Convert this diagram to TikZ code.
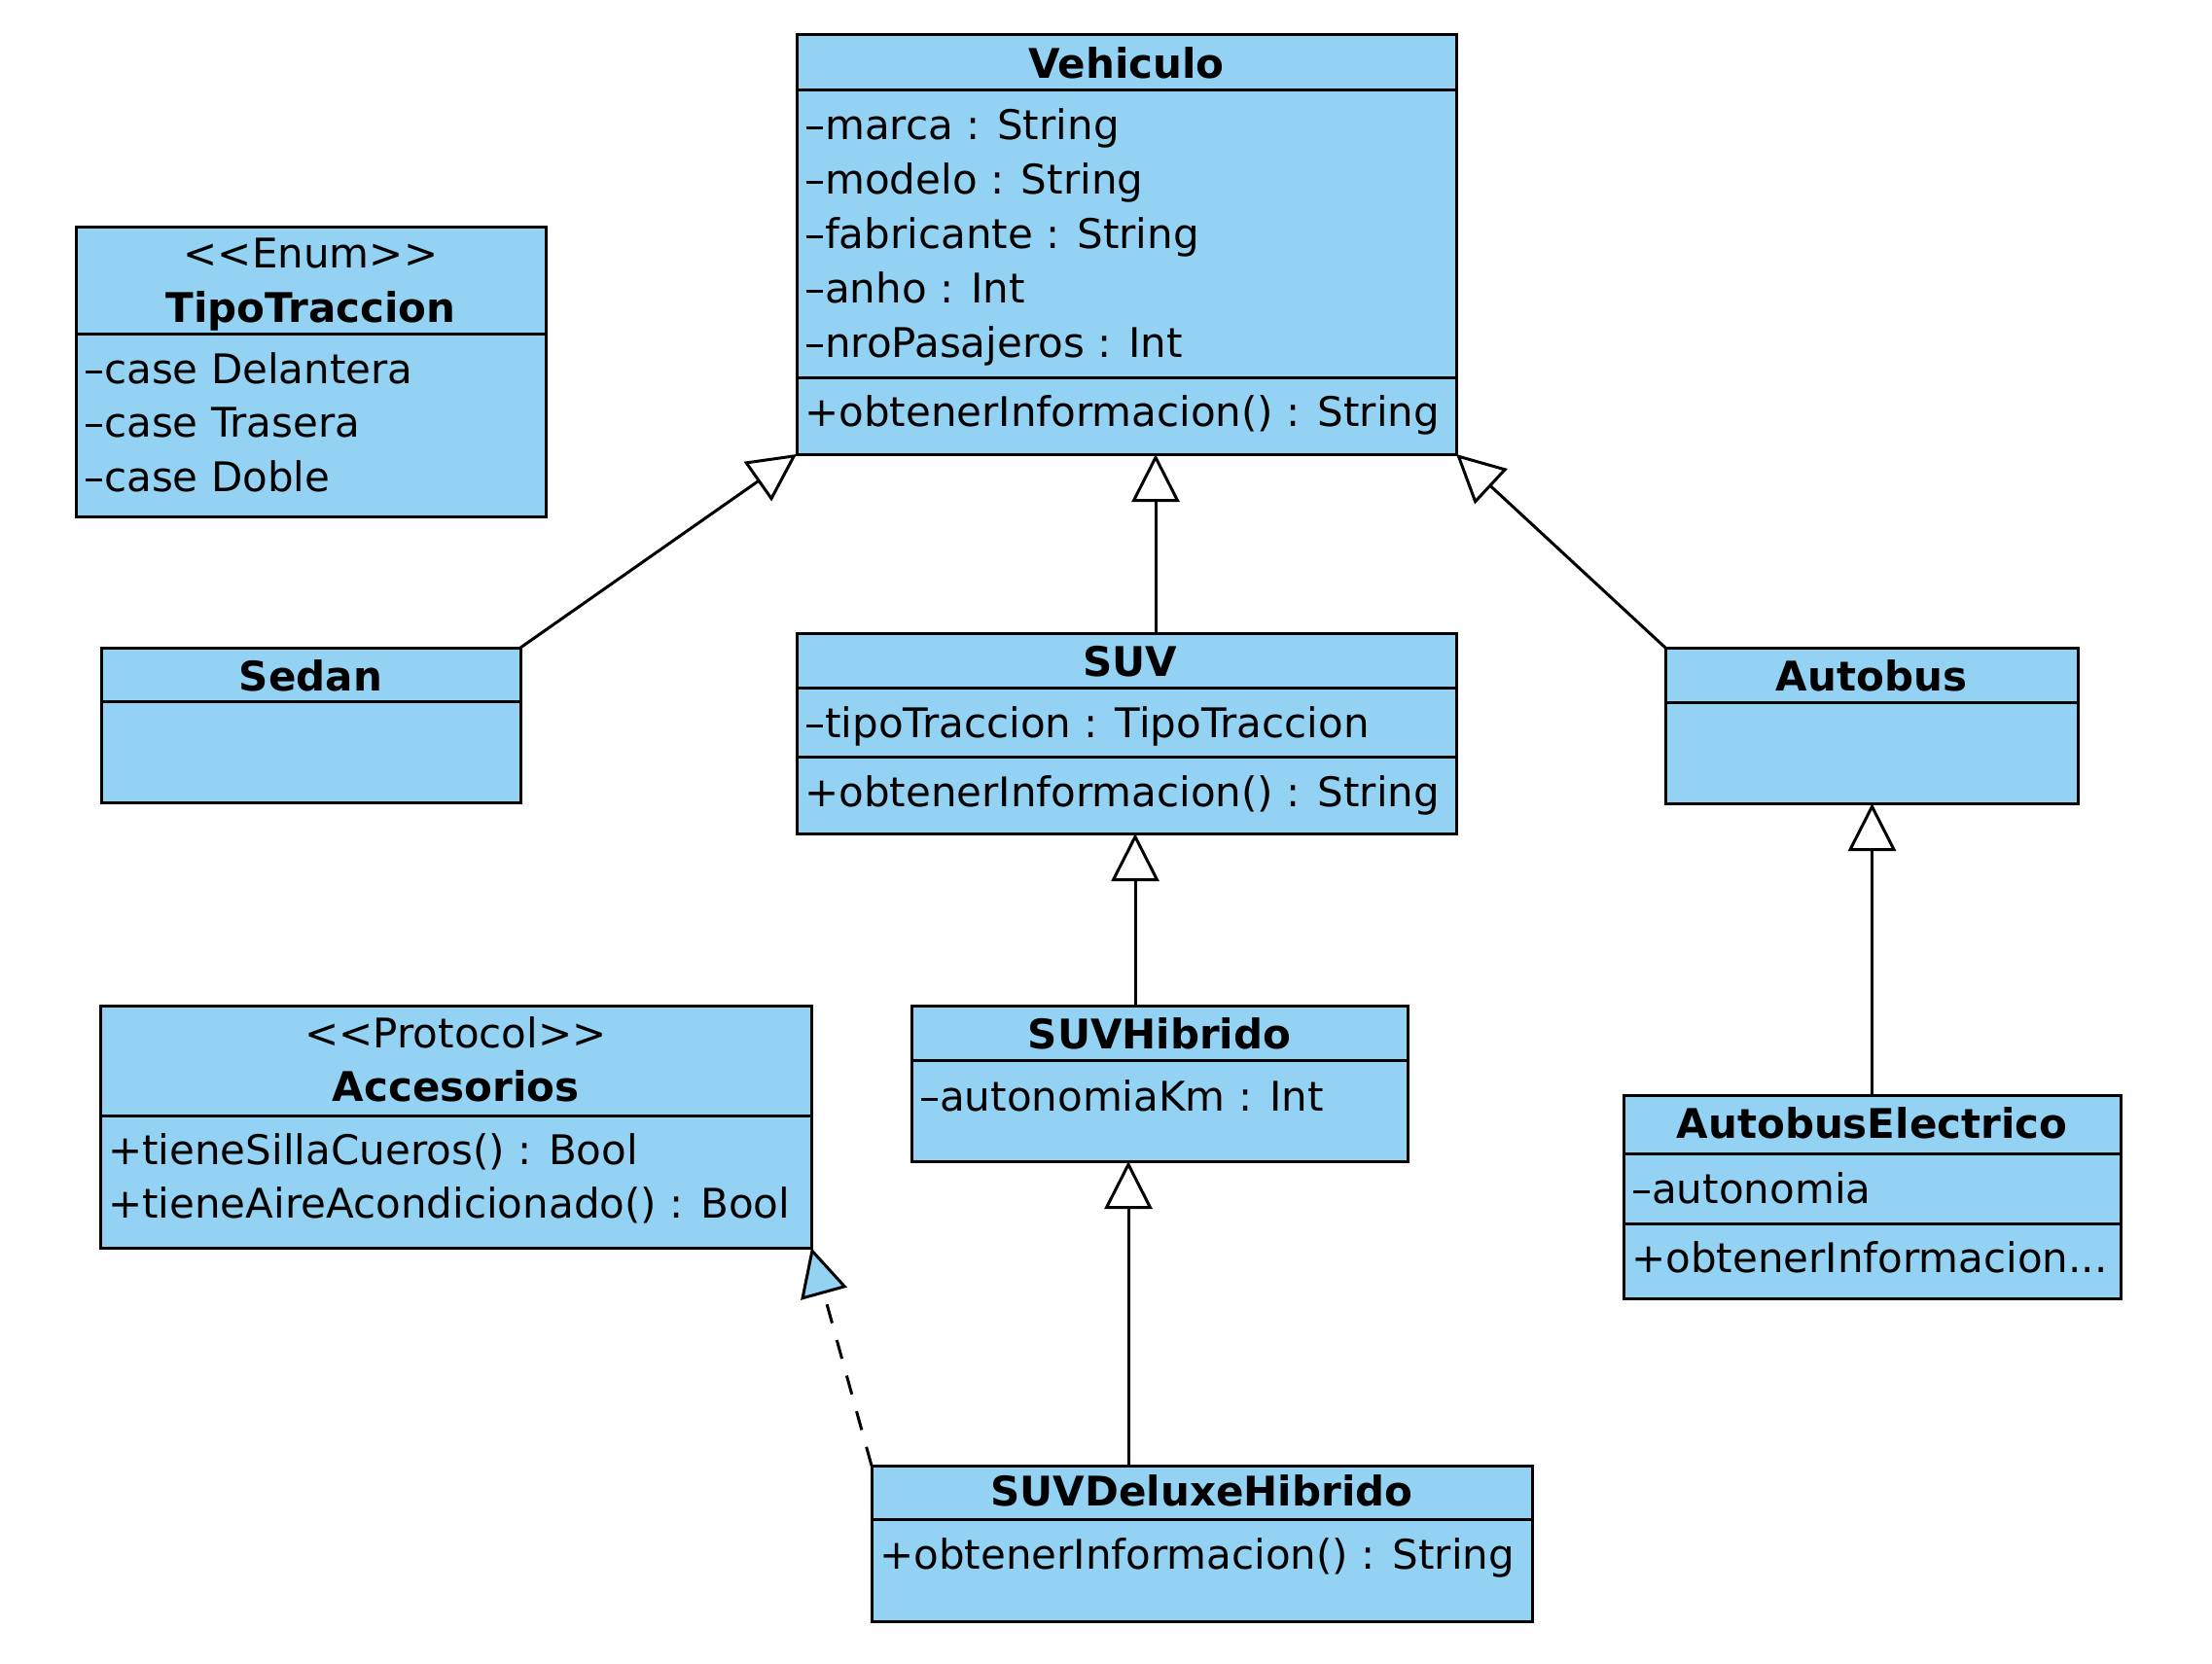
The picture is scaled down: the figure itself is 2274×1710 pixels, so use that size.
\documentclass[tikz,border=0pt]{standalone}
\usepackage{fontspec}
\setmainfont{DejaVu Sans}
\usetikzlibrary{arrows.meta,calc}
\definecolor{umlblue}{RGB}{147,210,242}
\begin{document}
\begin{tikzpicture}[x=1pt,y=-1pt,
  cls/.style={draw=black,line width=3pt,fill=umlblue,rectangle,inner sep=0pt,outer sep=0pt,anchor=north west},
  sepline/.style={line width=3pt},
  txt/.style={anchor=base west,inner sep=0pt,font=\fontsize{42}{50}\selectfont},
  hdr/.style={anchor=base,inner sep=0pt,font=\fontsize{42}{50}\selectfont\bfseries},
  ste/.style={anchor=base,inner sep=0pt,font=\fontsize{42}{50}\selectfont},
  inh/.style={line width=3pt,-{Triangle[open,length=49pt,width=49pt]}},
  rea/.style={line width=3pt,dash pattern=on 20pt off 18pt,-{Triangle[length=49pt,width=49pt,fill=umlblue]}}]
\useasboundingbox (0,0) rectangle (2274,1710);

% Vehiculo
\node[cls,minimum width=678pt,minimum height=431pt] (veh) at (819,36) {};
\draw[sepline] (veh.west |- 0,92) -- (veh.east |- 0,92);
\draw[sepline] (veh.west |- 0,388) -- (veh.east |- 0,388);
\node[hdr] (vehT) at (1158,80) {Vehiculo};
\node[txt] (veh1) at (827,143) {–marca : String};
\node[txt] (veh2) at (827,199) {–modelo : String};
\node[txt] (veh3) at (827,255) {–fabricante : String};
\node[txt] (veh4) at (827,311) {–anho : Int};
\node[txt] (veh5) at (827,367) {–nroPasajeros : Int};
\node[txt] (veh6) at (827,438) {+obtenerInformacion() : String};

% TipoTraccion
\node[cls,minimum width=483pt,minimum height=298pt] (tipo) at (78,233) {};
\draw[sepline] (tipo.west |- 0,343) -- (tipo.east |- 0,343);
\node[ste] (tipoS) at (319.5,275) {<\kern0pt<Enum>\kern0pt>};
\node[hdr] (tipoT) at (319.5,331) {TipoTraccion};
\node[txt] (tipo1) at (86,394) {–case Delantera};
\node[txt] (tipo2) at (86,449) {–case Trasera};
\node[txt] (tipo3) at (86,505) {–case Doble};

% Sedan
\node[cls,minimum width=431pt,minimum height=159pt] (sedan) at (104,666) {};
\draw[sepline] (sedan.west |- 0,721) -- (sedan.east |- 0,721);
\node[hdr] (sedanT) at (319.5,710) {Sedan};

% SUV
\node[cls,minimum width=678pt,minimum height=206pt] (suv) at (819,651) {};
\draw[sepline] (suv.west |- 0,707) -- (suv.east |- 0,707);
\draw[sepline] (suv.west |- 0,778) -- (suv.east |- 0,778);
\node[hdr] (suvT) at (1162,695) {SUV};
\node[txt] (suv1) at (827,758) {–tipoTraccion : TipoTraccion};
\node[txt] (suv2) at (827,829) {+obtenerInformacion() : String};

% Autobus
\node[cls,minimum width=424pt,minimum height=160pt] (bus) at (1712,666) {};
\draw[sepline] (bus.west |- 0,722) -- (bus.east |- 0,722);
\node[hdr] (busT) at (1924,710) {Autobus};

% Accesorios
\node[cls,minimum width=731pt,minimum height=249pt] (acc) at (103,1034) {};
\draw[sepline] (acc.west |- 0,1147) -- (acc.east |- 0,1147);
\node[ste] (accS) at (468.5,1077) {<\kern0pt<Protocol>\kern0pt>};
\node[hdr] (accT) at (468.5,1132) {Accesorios};
\node[txt] (acc1) at (111,1197) {+tieneSillaCueros() : Bool};
\node[txt] (acc2) at (111,1252) {+tieneAireAcondicionado() : Bool};

% SUVHibrido
\node[cls,minimum width=510pt,minimum height=160pt] (hib) at (937,1034) {};
\draw[sepline] (hib.west |- 0,1090) -- (hib.east |- 0,1090);
\node[hdr] (hibT) at (1192,1078) {SUVHibrido};
\node[txt] (hib1) at (945,1142) {–autonomiaKm : Int};

% AutobusElectrico
\node[cls,minimum width=511pt,minimum height=209pt] (ele) at (1669,1126) {};
\draw[sepline] (ele.west |- 0,1186) -- (ele.east |- 0,1186);
\draw[sepline] (ele.west |- 0,1258) -- (ele.east |- 0,1258);
\node[hdr] (eleT) at (1924.5,1170) {AutobusElectrico};
\node[txt] (ele1) at (1677,1237) {–autonomia};
\node[txt] (ele2) at (1677,1308) {+obtenerInformacion...};

% SUVDeluxeHibrido
\node[cls,minimum width=679pt,minimum height=160pt] (dlx) at (896,1507) {};
\draw[sepline] (dlx.west |- 0,1562) -- (dlx.east |- 0,1562);
\node[hdr] (dlxT) at (1235.5,1548) {SUVDeluxeHibrido};
\node[txt] (dlx1) at (904,1613) {+obtenerInformacion() : String};

% connectors
\coordinate (vehSuv) at ([xshift=30pt]veh.south);
\coordinate (suvHib) at ([xshift=9pt]suv.south);
\coordinate (hibDlx) at ([xshift=-32pt]hib.south);
\draw[inh] (sedan.north east) -- (veh.south west);
\draw[inh] (suv.north -| vehSuv) -- (vehSuv);
\draw[inh] (bus.north west) -- (veh.south east);
\draw[inh] (hib.north -| suvHib) -- (suvHib);
\draw[inh] (ele.north) -- (ele.north |- bus.south);
\draw[inh] (dlx.north -| hibDlx) -- (hibDlx);
\draw[rea] (dlx.north west) -- (acc.south east);
\end{tikzpicture}
\end{document}
